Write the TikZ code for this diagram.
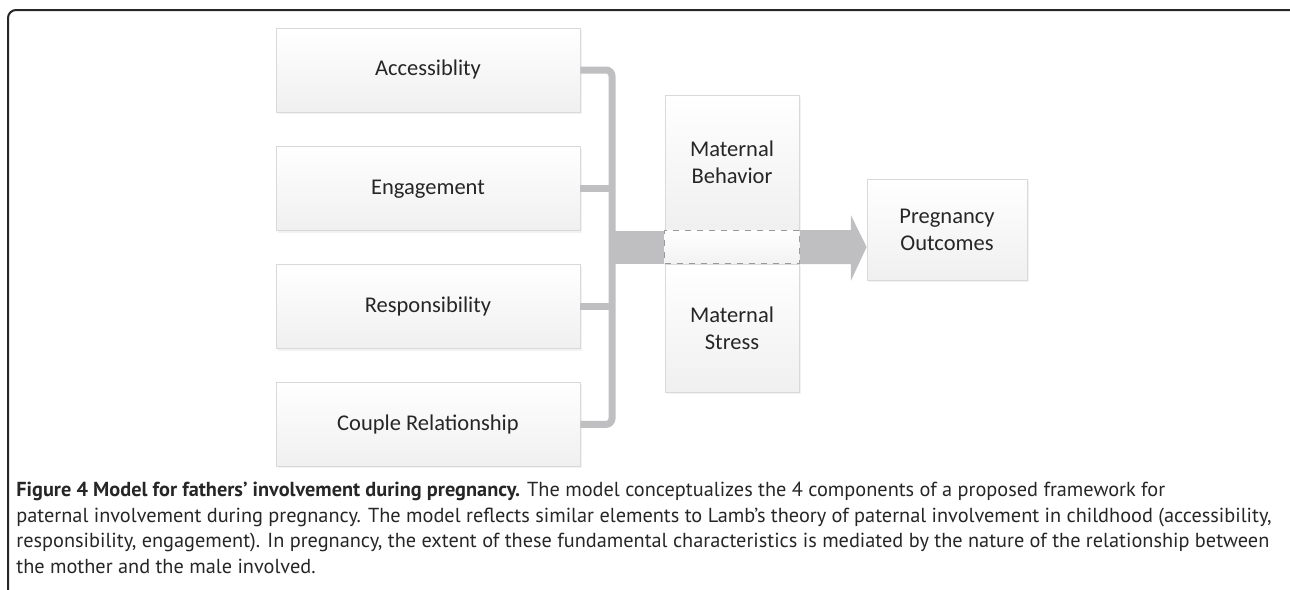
\documentclass[tikz,border=0pt]{standalone}
\usepackage{fontspec}
\setmainfont{Carlito}
\newfontfamily\captionfont{PT Sans}
\usetikzlibrary{positioning,calc,fit,shadows}

\definecolor{linkgray}{RGB}{191,191,193}
\definecolor{boxline}{RGB}{217,217,217}
\definecolor{inkgray}{RGB}{38,38,38}

\begin{document}
\begin{tikzpicture}[x=0.5pt,y=-0.5pt,
    factorbox/.style={rectangle, draw=boxline, top color=white, bottom color=black!6, thin, minimum width=152pt, minimum height=42pt, inner sep=0pt, align=center, text=inkgray, font=\fontsize{11.25}{13.5}\selectfont, drop shadow={shadow xshift=1pt, shadow yshift=-1pt, opacity=0.10}},
    conn/.style={draw=linkgray, line width=3.5pt, rounded corners=3pt},
    bar/.style={draw=linkgray, line width=16.5pt}]

        \useasboundingbox (0,0) rectangle (1290,589);
        \draw[black!85, line width=1pt, rounded corners=4pt] (8,10) rectangle (1310,620);

        % father components
        \node[factorbox] (acc) at (428,70) {Accessiblity};
        \node[factorbox] (eng) [below=17pt of acc] {Engagement};
        \node[factorbox] (resp) [below=16.5pt of eng] {Responsibility};
        \node[factorbox] (couple) [below=16.5pt of resp] {Couple Relationship};

        % mediators
        \node[factorbox, minimum width=67pt, minimum height=67.5pt] (mb) at (732,162.5) {Maternal\\Behavior};
        \node[factorbox, minimum width=67pt, minimum height=64pt] (ms) at (732,328) {Maternal\\Stress};
        \node[factorbox] (po) at (947,229.5) [minimum width=80pt, minimum height=50.5pt] {Pregnancy\\Outcomes};

        \coordinate (bus) at (612,0);
        \draw[conn] (acc.east) -- (acc.east -| bus) -- (couple.east -| bus) -- (couple.east);
        \draw[conn] (eng.east) -- (eng.east -| bus);
        \draw[conn] (resp.east) -- (resp.east -| bus);

        \node[fit=(mb.south west)(ms.north east), inner sep=0pt, draw=black!40, dashed, thin, top color=white, bottom color=black!5] (band) {};
        \draw[bar] (band.west -| bus) -- (band.west);
        \fill[linkgray] (band.north east) -- ++(51,0) -- ++(0,-15) -- (band.east -| po.west) -- ($(band.south east)+(51,17)$) -- ++(0,-17) -- (band.south east) -- cycle;

        % caption
        \node[anchor=north west, inner sep=0pt, align=left, text=inkgray, font=\captionfont\fontsize{10.15}{12.75}\selectfont] (caption) at (16,482)
            {\textbf{Figure 4 Model for fathers’ involvement during pregnancy.} The model conceptualizes the 4 components of a proposed framework for\\
            paternal involvement during pregnancy. The model reflects similar elements to Lamb’s theory of paternal involvement in childhood (accessibility,\\
            responsibility, engagement). In pregnancy, the extent of these fundamental characteristics is mediated by the nature of the relationship between\\
            the mother and the male involved.};

\end{tikzpicture}
\end{document}
